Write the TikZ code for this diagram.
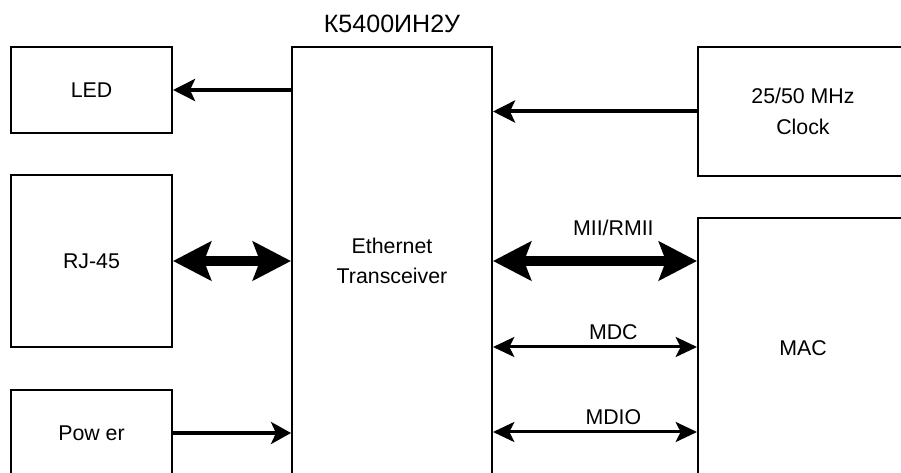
\documentclass[tikz,border=0pt]{standalone}
\usepackage{fontspec}
\setmainfont{Liberation Sans}
\usetikzlibrary{arrows.meta}
\begin{document}
\begin{tikzpicture}[x=0.75pt,y=-0.75pt,
  box/.style 2 args={draw, line width=1.5pt, inner sep=0pt, align=center,
    minimum width={#1*0.75pt}, minimum height={#2*0.75pt},
    font=\fontsize{16}{23}\selectfont},
  lbl/.style={font=\fontsize{16}{18}\selectfont, inner sep=0pt},
  medarrow/.style={line width=3pt, -{Stealth[length=16.5pt,width=16.5pt,inset=3.75pt]}},
  fatarrow/.style={line width=7.5pt, {Stealth[length=28.5pt,width=29pt,inset=5.25pt]}-{Stealth[length=28.5pt,width=29pt,inset=5.25pt]}},
  thinarrow/.style={line width=2.25pt, {Stealth[length=16pt,width=15pt,inset=3.75pt]}-{Stealth[length=16pt,width=15pt,inset=3.75pt]}},
  pwrarrow/.style={line width=2.6pt, -{Stealth[length=15pt,width=16.5pt,inset=3.75pt]}}
]
\useasboundingbox (0,0) rectangle (901,473);
\clip (0,0) rectangle (901,473);

\node[box={161}{86}] (led) at (91.5,90) {LED};
\node[box={161}{172}] (rj) at (91.5,261) {RJ-45};
\node[box={161}{86}] (pwr) at (91.5,433) {Pow er};
\node[box={200}{428}] (ct) at (392,261) {Ethernet\\Transceiver};
\node[font=\fontsize{18.8}{22}\selectfont, inner sep=0pt] (title) at (392,24) {К5400ИН2У};
\node[box={210}{129}] (clk) at (803,111.5) {25/50 MHz\\Clock};
\node[box={210}{260}] (mac) at (803,348) {MAC};

\coordinate (ledsrc) at (ct.west |- led.east);
\draw[medarrow] (ledsrc) -- (led.east);
\coordinate (clkdst) at (ct.east |- clk.west);
\draw[medarrow] (clk.west) -- (clkdst);
\coordinate (rjdst) at (ct.west |- rj.east);
\draw[fatarrow] (rj.east) -- (rjdst);
\coordinate (pwrsrc) at (pwr.east);
\coordinate (pwrdst) at (ct.west |- pwr.east);
\draw[pwrarrow] (pwrsrc) -- (pwrdst);

\coordinate (miiA) at (ct.east |- 0,261);
\coordinate (miiB) at (mac.west |- 0,261);
\draw[fatarrow] (miiA) -- node[lbl, pos=0.59, yshift=24.75pt] (miil) {MII/RMII} (miiB);
\coordinate (mdcA) at (ct.east |- 0,347);
\coordinate (mdcB) at (mac.west |- 0,347);
\draw[thinarrow] (mdcA) -- node[lbl, pos=0.59, yshift=11.5pt] (mdcl) {MDC} (mdcB);
\coordinate (mdioA) at (ct.east |- 0,432);
\coordinate (mdioB) at (mac.west |- 0,432);
\draw[thinarrow] (mdioA) -- node[lbl, pos=0.59, yshift=11.5pt] (mdiol) {MDIO} (mdioB);
\end{tikzpicture}
\end{document}
